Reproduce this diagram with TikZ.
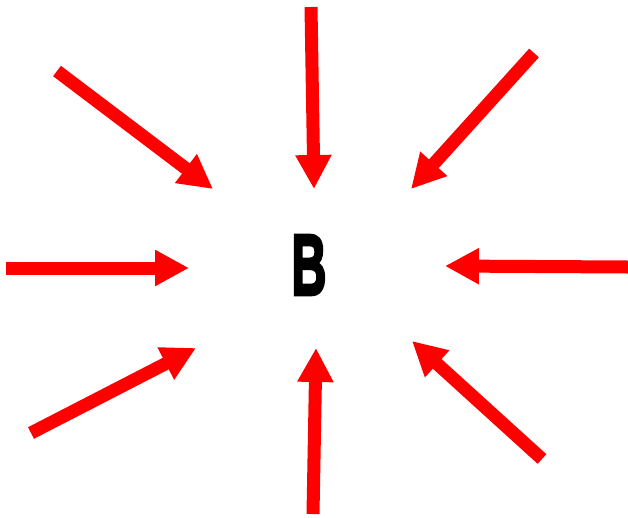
\documentclass[tikz,border=0pt]{standalone}
\usepackage{fontspec}
\setmainfont{Liberation Sans}
\newfontfamily\heavyfont[FakeBold=4]{Liberation Sans Bold}
\usetikzlibrary{arrows.meta}

\begin{document}
\begin{tikzpicture}[x=1pt,y=-1pt,
  push/.style={draw=red,line width=13pt,-{Triangle[length=34pt,width=34pt]}}]
\useasboundingbox (0,0) rectangle (628,517);
\node (B) at (309,265) {\fontsize{86}{86}\heavyfont\scalebox{0.56}[1]{B}};
% tails and tips
\coordinate (t1) at (57,71);   \coordinate (h1) at (213,189);
\coordinate (t2) at (311,7);   \coordinate (h2) at (314,189);
\coordinate (t3) at (534,53);  \coordinate (h3) at (411,189);
\coordinate (t4) at (6,268);   \coordinate (h4) at (189,268);
\coordinate (t5) at (628,267); \coordinate (h5) at (445,266);
\coordinate (t6) at (31,433);  \coordinate (h6) at (196,348);
\coordinate (t7) at (313,514); \coordinate (h7) at (316,348);
\coordinate (t8) at (542,459); \coordinate (h8) at (412,341);
\foreach \i in {1,...,8}
  \draw[push] (t\i) -- (h\i);
\end{tikzpicture}
\end{document}
